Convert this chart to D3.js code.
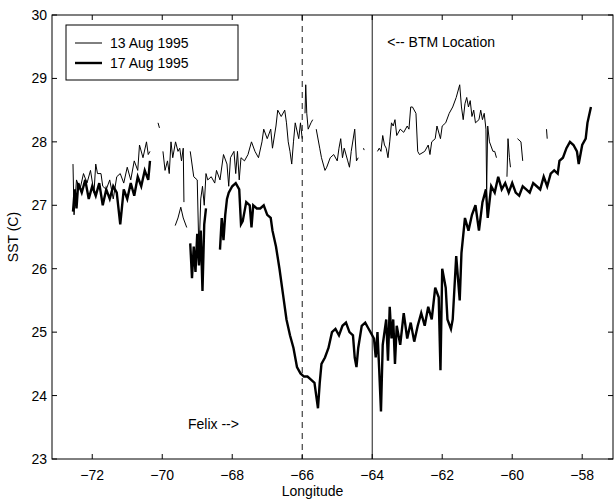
<!DOCTYPE html>
<html>
<head>
<meta charset="utf-8">
<script src="https://cdn.jsdelivr.net/npm/d3@7"></script>
<style>
  body { margin: 0; background: #fff; }
  text { font-family: "Liberation Sans", Arial, sans-serif; fill: #000; }
</style>
</head>
<body>
<div id="chart"></div>
<script>
//DATA
var seriesNames = ["13 Aug 1995", "17 Aug 1995"];
var xTicks = [-72, -70, -68, -66, -64, -62, -60, -58];
var yTicks = [23, 24, 25, 26, 27, 28, 29, 30];
var felixLon = -66;
var btmLon = -64;

// 13 Aug 1995 (thin line), null = gap
var lon13 = [
  -72.55, -72.52, -72.45, -72.35, -72.25, -72.15, -72.05, -71.95, -71.9, -71.85, -71.75, -71.7, -71.6, -71.5,
  -71.4, -71.3, -71.2, -71.1, -71.0, -70.9, -70.8, -70.7, -70.65, -70.55, -70.45, -70.4, -70.35, null,
  -70.12, -70.08, null,
  -69.98, -69.92, -69.85, -69.8, -69.75, -69.7, -69.62, -69.55, -69.5, -69.45, -69.4, -69.38, null,
  -69.63, -69.55, -69.47, -69.4, -69.3, null,
  -69.2, -69.1, -69.0, -68.95, -68.9, -68.85, -68.8, -68.75, -68.7, -68.6, -68.5, -68.45, -68.35, -68.25,
  -68.15, -68.1, -68.05, -67.95, -67.9, -67.85, -67.8, -67.75, -67.65, -67.55, -67.45, -67.35, -67.25, -67.15,
  -67.1, -67.0, -66.9, -66.85, -66.75, -66.7, -66.6, -66.5, -66.45, -66.4, -66.35, -66.3, -66.25, -66.2,
  -66.1, -66.05, -66.0, null,
  -65.92, -65.9, -65.87, -65.83, -65.75, -65.7, null,
  -65.6, -65.5, -65.45, -65.35, -65.3, -65.2, -65.1, -65.0, -64.95, -64.9, -64.85, -64.8, -64.7, -64.65,
  -64.6, -64.5, -64.45, -64.4, null,
  -64.25, -64.23, null,
  -63.85, -63.8, -63.75, -63.7, -63.65, -63.6, -63.55, -63.5, -63.45, -63.4, -63.35, -63.3, -63.2, -63.1,
  -63.0, -62.95, -62.9, -62.85, -62.75, -62.7, -62.65, -62.5, -62.4, -62.35, -62.3, -62.2, -62.15, -62.05,
  -62.0, -61.9, -61.8, -61.7, -61.6, -61.5, -61.45, -61.4, -61.35, -61.3, -61.25, -61.2, -61.15, -61.1,
  -61.05, -60.95, -60.9, -60.85, -60.8, -60.75, -60.73, -60.7, -60.65, -60.55, -60.5, -60.45, null,
  -60.15, -60.12, -60.08, -60.05, null,
  -59.85, -59.75, -59.7, null,
  -59.02, -59.0
];
var sst13 = [
  27.65, 26.85, 27.4, 27.25, 27.5, 27.35, 27.55, 27.2, 27.65, 27.5, 27.5, 27.3, 27.25, 27.4,
  27.1, 27.45, 27.5, 27.35, 27.6, 27.4, 27.7, 27.55, 27.95, 27.75, 28.0, 27.8, 27.85, null,
  28.3, 28.22, null,
  27.85, 27.55, 27.7, 27.5, 28.0, 27.75, 28.0, 27.85, 27.9, 27.7, 27.9, 27.05, null,
  26.68, 26.8, 26.97, 26.8, 26.65, null,
  27.85, 27.45, 27.4, 26.2, 27.1, 27.3, 27.0, 27.5, 27.4, 27.45, 27.35, 27.55, 27.4, 27.8,
  27.65, 27.3, 27.75, 27.85, 27.5, 27.85, 27.4, 27.75, 27.7, 27.8, 28.0, 27.85, 27.75, 28.0,
  28.2, 28.05, 28.2, 27.9, 28.25, 28.5, 28.4, 28.5, 28.3, 28.0, 27.85, 27.65, 28.0, 28.3,
  28.05, 28.3, 28.05, null,
  28.45, 28.9, 28.45, 28.2, 28.3, 28.35, null,
  28.2, 27.9, 27.75, 27.55, 27.6, 27.75, 27.8, 27.7, 27.9, 28.05, 27.75, 27.9, 27.7, 27.6,
  27.85, 28.2, 27.7, 27.75, null,
  27.9, 27.87, null,
  27.85, 27.9, 27.85, 28.1, 27.95, 27.9, 27.75, 28.0, 28.3, 28.25, 28.35, 28.1, 28.2, 28.15,
  28.25, 28.2, 28.55, 28.55, 28.45, 27.85, 27.8, 27.85, 27.95, 27.8, 28.0, 28.05, 28.25, 28.05,
  28.25, 28.3, 28.45, 28.55, 28.7, 28.9, 28.55, 28.35, 28.6, 28.7, 28.55, 28.65, 28.4, 28.5,
  28.3, 28.35, 28.5, 28.35, 28.45, 28.2, 27.25, 28.25, 28.0, 27.85, 27.85, 27.75, null,
  27.45, 28.05, 27.75, 27.6, null,
  28.05, 28.0, 27.7, null,
  28.2, 28.05
];

// 17 Aug 1995 (thick line), null = gap
var lon17 = [
  -72.55, -72.5, -72.45, -72.4, -72.3, -72.2, -72.1, -72.0, -71.9, -71.8, -71.7, -71.6, -71.5, -71.4,
  -71.3, -71.2, -71.1, -71.0, -70.9, -70.8, -70.7, -70.6, -70.5, -70.4, -70.35, null,
  -69.2, -69.15, -69.1, -69.05, -69.0, -68.95, -68.9, -68.85, -68.8, -68.75, null,
  -68.35, -68.3, -68.25, -68.2, -68.15, -68.1, -68.0, -67.9, -67.8, -67.75, -67.7, -67.6, -67.5, -67.45,
  -67.4, -67.3, -67.2, -67.1, -67.0, -66.9, -66.85, -66.75, -66.65, -66.55, -66.45, -66.35, -66.25, -66.15,
  -66.05, -65.95, -65.85, -65.75, -65.65, -65.55, -65.5, -65.45, -65.35, -65.25, -65.15, -65.05, -64.95, -64.85,
  -64.75, -64.65, -64.55, -64.5, -64.45, -64.4, -64.3, -64.2, -64.1, -64.05, -63.95, -63.9, -63.85, -63.8,
  -63.75, -63.7, -63.6, -63.55, -63.5, -63.45, -63.4, -63.35, -63.3, -63.2, -63.1, -63.0, -62.9, -62.8,
  -62.7, -62.6, -62.5, -62.4, -62.3, -62.2, -62.1, -62.05, -62.0, -61.9, -61.85, -61.75, -61.7, -61.6,
  -61.5, -61.45, -61.35, -61.25, -61.15, -61.05, -60.95, -60.85, -60.75, -60.7, -60.6, -60.5, -60.4, -60.3,
  -60.2, -60.1, -60.0, -59.9, -59.8, -59.7, -59.6, -59.5, -59.4, -59.3, -59.2, -59.1, -59.0, -58.9,
  -58.8, -58.7, -58.65, -58.55, -58.45, -58.35, -58.25, -58.15, -58.1, -58.0, -57.9, -57.85, -57.75
];
var sst17 = [
  26.9, 27.25, 26.95, 27.35, 27.2, 27.4, 27.1, 27.3, 27.15, 27.35, 27.0, 27.25, 27.1, 27.3,
  27.2, 26.7, 27.25, 27.1, 27.35, 27.15, 27.45, 27.3, 27.55, 27.4, 27.7, null,
  26.4, 25.85, 26.35, 25.95, 26.55, 26.05, 26.6, 25.65, 26.7, 26.95, null,
  26.3, 26.8, 26.45, 26.85, 27.1, 27.2, 27.3, 27.35, 27.25, 26.7, 26.75, 27.05, 27.0, 26.65,
  27.0, 26.95, 26.95, 27.0, 26.85, 26.8, 26.6, 26.35, 26.0, 25.6, 25.2, 24.95, 24.75, 24.45,
  24.35, 24.3, 24.3, 24.25, 24.2, 23.8, 24.2, 24.5, 24.6, 24.75, 25.0, 25.05, 24.95, 25.1,
  25.15, 25.0, 24.95, 24.6, 24.45, 24.75, 25.1, 25.15, 25.05, 25.0, 24.9, 24.6, 25.0, 24.4,
  23.75, 24.8, 25.2, 24.55, 25.4, 24.9, 25.2, 24.5, 25.1, 24.8, 25.3, 24.9, 25.15, 24.85,
  25.1, 25.3, 25.1, 25.4, 25.2, 25.7, 25.55, 24.4, 26.0, 25.7, 25.2, 25.05, 25.2, 26.2,
  25.5, 26.25, 26.8, 26.6, 26.85, 27.0, 26.6, 27.05, 27.25, 26.8, 27.3, 27.2, 27.45, 27.25,
  27.35, 27.2, 27.35, 27.2, 27.15, 27.3, 27.25, 27.2, 27.35, 27.3, 27.25, 27.45, 27.3, 27.5,
  27.55, 27.5, 27.7, 27.75, 27.9, 28.0, 27.95, 27.85, 27.65, 27.95, 28.05, 28.3, 28.55
];

//SVG
var W = 614, H = 500;
var svg = d3.select('#chart').append('svg')
  .attr('width', W)
  .attr('height', H);

var padL = 52, padR = 613, padT = 15, padB = 459;

var x = d3.scaleLinear().domain([-73.15, -57.12]).range([padL, padR]);
var y = d3.scaleLinear().domain([23, 30]).range([padB, padT]);

//AXIS BOX
svg.append('rect')
  .attr('x', padL).attr('y', padT)
  .attr('width', padR - padL).attr('height', padB - padT)
  .attr('fill', 'none').attr('stroke', '#000').attr('stroke-width', 1);

// ticks inside, matlab style, on all four sides
var tk = 5;
xTicks.forEach(function (t) {
  svg.append('line').attr('x1', x(t)).attr('x2', x(t)).attr('y1', padB).attr('y2', padB - tk).attr('stroke', '#000');
  svg.append('line').attr('x1', x(t)).attr('x2', x(t)).attr('y1', padT).attr('y2', padT + tk).attr('stroke', '#000');
  svg.append('text').attr('x', x(t)).attr('y', padB + 21)
    .attr('text-anchor', 'middle').attr('font-size', 14)
    .text(t < 0 ? '\u2212' + Math.abs(t) : t);
});
yTicks.forEach(function (t) {
  svg.append('line').attr('x1', padL).attr('x2', padL + tk).attr('y1', y(t)).attr('y2', y(t)).attr('stroke', '#000');
  svg.append('line').attr('x1', padR).attr('x2', padR - tk).attr('y1', y(t)).attr('y2', y(t)).attr('stroke', '#000');
  svg.append('text').attr('x', padL - 5).attr('y', y(t) + 5)
    .attr('text-anchor', 'end').attr('font-size', 14)
    .text(t);
});

//AXIS LABELS
svg.append('text').attr('x', (padL + padR) / 2 - 20).attr('y', 496)
  .attr('text-anchor', 'middle').attr('font-size', 14).text('Longitude');
svg.append('text')
  .attr('transform', 'translate(18,' + ((padT + padB) / 2) + ') rotate(-90)')
  .attr('text-anchor', 'middle').attr('font-size', 14).text('SST (C)');

//MARKER LINES
svg.append('line')
  .attr('x1', x(felixLon)).attr('x2', x(felixLon)).attr('y1', padT).attr('y2', padB)
  .attr('stroke', '#000').attr('stroke-width', 0.9).attr('stroke-dasharray', '6,5');
svg.append('line')
  .attr('x1', x(btmLon)).attr('x2', x(btmLon)).attr('y1', padT).attr('y2', padB)
  .attr('stroke', '#000').attr('stroke-width', 0.9);

svg.append('text').attr('x', x(btmLon) + 15).attr('y', 47).attr('font-size', 14).text('<-- BTM Location');
svg.append('text').attr('x', 188).attr('y', 429).attr('font-size', 14).text('Felix -->');

//DRAW THE LINES
function zip(lons, ssts) {
  return lons.map(function (d, i) { return [d, ssts[i]]; });
}
var line = d3.line()
  .defined(function (d) { return d[0] != null && d[1] != null; })
  .x(function (d) { return x(d[0]); })
  .y(function (d) { return y(d[1]); });

svg.append('path').datum(zip(lon13, sst13))
  .attr('d', line).attr('fill', 'none')
  .attr('stroke', '#000').attr('stroke-width', 1);
svg.append('path').datum(zip(lon17, sst17))
  .attr('d', line).attr('fill', 'none')
  .attr('stroke', '#000').attr('stroke-width', 2.4);

//LEGEND
var lg = svg.append('g').attr('transform', 'translate(66,25)');
lg.append('rect').attr('width', 172).attr('height', 55)
  .attr('fill', '#fff').attr('stroke', '#000').attr('stroke-width', 1);
var widths = [1, 2.4];
seriesNames.forEach(function (name, i) {
  var yy = 18 + i * 20;
  lg.append('line').attr('x1', 9).attr('x2', 36).attr('y1', yy).attr('y2', yy)
    .attr('stroke', '#000').attr('stroke-width', widths[i]);
  lg.append('text').attr('x', 44).attr('y', yy + 5).attr('font-size', 14).text(name);
});
</script>
</body>
</html>
